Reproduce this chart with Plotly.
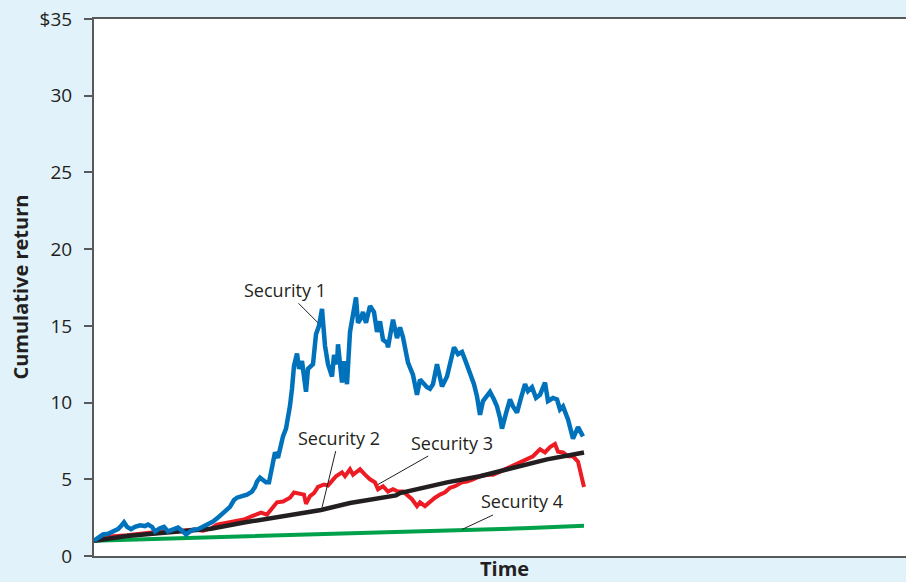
import plotly.graph_objects as go

# ---- data (time in periods, cumulative return in $) ----
sec1_t = [0, 4, 9, 14, 19, 24, 27, 30, 33, 37, 41, 46, 51, 54, 58, 61, 66, 70, 74, 78,
          84, 89, 92, 96, 100, 104, 109, 114, 119, 124, 128, 132, 136, 140, 143, 148, 153, 158, 161, 163,
          166, 169, 172, 175, 177, 181, 184, 186, 189, 192, 194, 196, 198, 200, 203, 205, 208, 212, 214, 219,
          222, 225, 228, 231, 234, 238, 240, 243, 244, 248, 250, 253, 256, 259, 262, 264, 267, 269, 272, 276,
          280, 283, 286, 289, 293, 294, 299, 303, 306, 309, 312, 314, 319, 323, 326, 330, 333, 336, 339, 343,
          348, 353, 357, 360, 364, 368, 371, 376, 380, 383, 386, 389, 393, 396, 400, 403, 406, 408, 412, 416,
          419, 423, 427, 431, 434, 438, 442, 446, 451, 454, 459, 463, 466, 469, 474, 477, 479, 484, 487, 489]
sec1_v = [1.0, 1.15, 1.4, 1.45, 1.6, 1.75, 1.95, 2.2, 1.9, 1.75, 1.9, 2.0, 1.95, 2.05, 1.9, 1.6, 1.8, 1.9, 1.6, 1.7,
          1.85, 1.6, 1.4, 1.6, 1.73, 1.75, 1.9, 2.1, 2.25, 2.5, 2.75, 2.95, 3.2, 3.65, 3.8, 3.9, 4.0, 4.2, 4.5, 4.85,
          5.1, 4.95, 4.8, 4.8, 5.6, 6.75, 6.4, 7.0, 7.8, 8.3, 8.9, 9.8, 10.9, 12.4, 13.2, 12.2, 12.7, 10.7, 12.2, 12.5,
          14.45, 15.0, 16.1, 13.7, 12.5, 11.7, 13.1, 12.5, 13.8, 11.3, 12.7, 11.2, 14.6, 15.8, 16.85, 15.2, 15.5, 15.9, 15.2, 16.3,
          15.9, 14.6, 15.3, 14.1, 13.9, 13.6, 15.4, 14.2, 14.9, 14.25, 13.3, 12.6, 11.8, 10.5, 11.5, 11.2, 11.0, 10.9, 11.2, 12.5,
          11.05, 11.7, 12.8, 13.6, 13.15, 13.3, 12.8, 12.0, 11.2, 10.4, 9.2, 10.1, 10.5, 10.7, 10.2, 9.75, 9.0, 8.3, 9.3, 10.2,
          9.75, 9.35, 10.3, 11.2, 10.75, 11.0, 10.3, 10.5, 11.3, 10.1, 10.3, 10.2, 9.55, 9.75, 8.9, 8.2, 7.65, 8.4, 8.0, 7.8]

sec2_t = [0, 16, 33, 51, 67, 83, 100, 109, 117, 123, 133, 150, 158, 167, 173, 178, 183, 189, 196, 200,
          204, 210, 212, 216, 220, 224, 230, 234, 238, 242, 248, 251, 256, 259, 263, 266, 271, 276, 281, 284,
          289, 294, 299, 304, 309, 314, 318, 323, 326, 331, 336, 341, 346, 351, 356, 361, 368, 373, 379, 386,
          393, 399, 406, 413, 419, 426, 433, 439, 446, 451, 456, 461, 464, 469, 474, 479, 484, 488, 490]
sec2_v = [1.0, 1.27, 1.35, 1.5, 1.6, 1.62, 1.72, 1.65, 1.8, 2.05, 2.18, 2.38, 2.6, 2.83, 2.7, 3.15, 3.5, 3.55, 3.8, 4.14,
          4.1, 4.0, 3.4, 3.9, 4.1, 4.5, 4.66, 4.6, 4.9, 5.2, 5.45, 5.2, 5.65, 5.3, 5.5, 5.65, 5.3, 5.0, 4.8, 4.35,
          4.55, 4.2, 4.35, 4.2, 4.2, 3.9, 3.7, 3.25, 3.5, 3.25, 3.55, 3.8, 4.0, 4.15, 4.45, 4.55, 4.8, 4.85, 5.0, 5.2,
          5.3, 5.3, 5.5, 5.75, 5.9, 6.1, 6.3, 6.5, 6.95, 6.75, 7.1, 7.3, 6.8, 6.75, 6.5, 6.5, 6.15, 5.2, 4.5]

sec3_t = [0, 33, 67, 100, 117, 150, 183, 227, 256, 286, 302, 306, 319, 353, 386, 419, 453, 490]
sec3_v = [1.0, 1.3, 1.5, 1.66, 1.78, 2.18, 2.55, 3.0, 3.45, 3.8, 3.95, 4.1, 4.3, 4.8, 5.2, 5.75, 6.3, 6.75]

sec4_t = [0, 106, 206, 260, 306, 386, 436, 490]
sec4_v = [1.0, 1.2, 1.38, 1.5, 1.6, 1.7, 1.82, 1.97]

y_ticks = [0, 5, 10, 15, 20, 25, 30, 35]
y_tick_labels = ["0", "5", "10", "15", "20", "25", "30", "$35"]

labels = ["Security 1", "Security 2", "Security 3", "Security 4"]
label_tip_t = [224, 228, 284, 368]
label_tip_v = [15.2, 3.16, 4.66, 1.73]
label_ax = [-33, 17, 74, 60]
label_ay = [-33, -70, -42, -28]

TEXT = "#231f20"
FONT = "Open Sans"
BG = "#e1f2fa"

fig = go.Figure()
fig.add_trace(go.Scatter(x=sec4_t, y=sec4_v, mode="lines", line=dict(color="#00a14b", width=4), cliponaxis=False))
fig.add_trace(go.Scatter(x=sec2_t, y=sec2_v, mode="lines", line=dict(color="#ed1c24", width=4), cliponaxis=False))
fig.add_trace(go.Scatter(x=sec3_t, y=sec3_v, mode="lines", line=dict(color="#231f20", width=4.5), cliponaxis=False))
fig.add_trace(go.Scatter(x=sec1_t, y=sec1_v, mode="lines", line=dict(color="#0072bc", width=4.5), cliponaxis=False))

for txt, tx, tv, ax, ay in zip(labels, label_tip_t, label_tip_v, label_ax, label_ay):
    fig.add_annotation(x=tx, y=tv, xref="x", yref="y", text=txt, showarrow=True,
                       arrowhead=0, arrowwidth=1, arrowcolor=TEXT, ax=ax, ay=ay,
                       font=dict(family=FONT, size=18, color=TEXT))

fig.add_annotation(text="<b>Cumulative return</b>", xref="paper", yref="paper",
                   x=-0.091, y=0.5, xanchor="center", yanchor="middle", textangle=-90, showarrow=False,
                   font=dict(family=FONT, size=20, color=TEXT))
fig.add_annotation(text="<b>Time</b>", xref="paper", yref="paper",
                   x=0.505, y=-0.024, xanchor="center", yanchor="middle", showarrow=False,
                   font=dict(family=FONT, size=20, color=TEXT))

fig.update_layout(
    width=906, height=582,
    margin=dict(l=94, r=0, t=19, b=26),
    paper_bgcolor=BG, plot_bgcolor="white",
    showlegend=False,
    font=dict(family=FONT, color=TEXT),
)
fig.update_xaxes(range=[0, 812], showgrid=False, zeroline=False, showticklabels=False, ticks="",
                 showline=True, linecolor="#58595b", linewidth=2, mirror=True)
fig.update_yaxes(range=[0, 35], tickvals=y_ticks, ticktext=y_tick_labels, showgrid=False, zeroline=False,
                 ticks="outside", ticklen=8, tickwidth=1.5, tickcolor="#58595b",
                 showline=True, linecolor="#58595b", linewidth=2, ticklabelstandoff=8,
                 tickfont=dict(family=FONT, size=19, color=TEXT))

fig.write_html("out.html", config={"displayModeBar": False},
               post_script="document.body.style.margin='0';document.body.style.background='" + BG + "';")
